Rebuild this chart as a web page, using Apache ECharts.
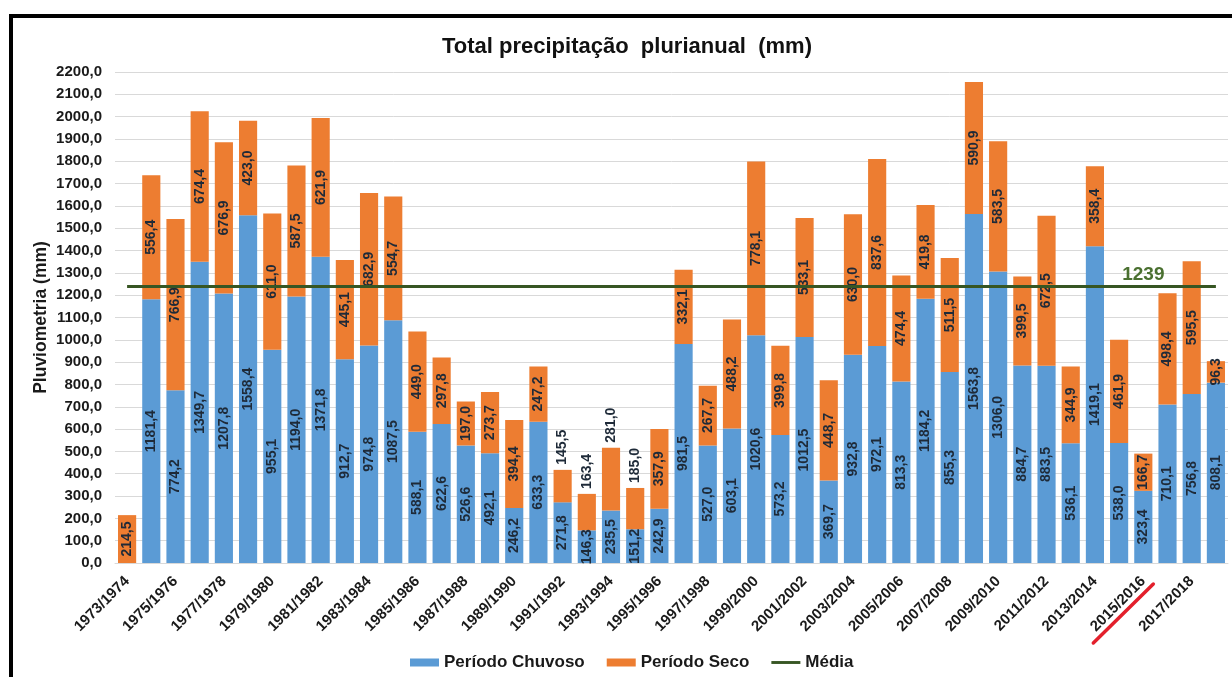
<!DOCTYPE html>
<html>
<head>
<meta charset="utf-8">
<script src="https://cdn.jsdelivr.net/npm/echarts@6/dist/echarts.min.js"></script>
<style>
html,body{margin:0;padding:0;background:#fff;}
#chart{width:1232px;height:677px;}
</style>
</head>
<body>
<div id="chart"></div>
<script>
const categories = ['1973/1974','1974/1975','1975/1976','1976/1977','1977/1978','1978/1979','1979/1980','1980/1981','1981/1982','1982/1983','1983/1984','1984/1985','1985/1986','1986/1987','1987/1988','1988/1989','1989/1990','1990/1991','1991/1992','1992/1993','1993/1994','1994/1995','1995/1996','1996/1997','1997/1998','1998/1999','1999/2000','2000/2001','2001/2002','2002/2003','2003/2004','2004/2005','2005/2006','2006/2007','2007/2008','2008/2009','2009/2010','2010/2011','2011/2012','2012/2013','2013/2014','2014/2015','2015/2016','2016/2017','2017/2018','2018/2019'];
const chuvoso = [0,1181.4,774.2,1349.7,1207.8,1558.4,955.1,1194.0,1371.8,912.7,974.8,1087.5,588.1,622.6,526.6,492.1,246.2,633.3,271.8,146.3,235.5,151.2,242.9,981.5,527.0,603.1,1020.6,573.2,1012.5,369.7,932.8,972.1,813.3,1184.2,855.3,1563.8,1306.0,884.7,883.5,536.1,1419.1,538.0,323.4,710.1,756.8,808.1];
const seco = [214.5,556.4,766.9,674.4,676.9,423.0,611.0,587.5,621.9,445.1,682.9,554.7,449.0,297.8,197.0,273.7,394.4,247.2,145.5,163.4,281.0,185.0,357.9,332.1,267.7,488.2,778.1,399.8,533.1,448.7,630.0,837.6,474.4,419.8,511.5,590.9,583.5,399.5,672.5,344.9,358.4,461.9,166.7,498.4,595.5,96.3];
const mediaValue = 1239;
const secoLabelAbove = [18,19,20,21];
const mediaLabelIndex = 42;
const highlightedCategory = '2015/2016';

const FONT = 'Liberation Sans, Arial, sans-serif';
const fmt = v => v.toFixed(1).replace('.', ',');
const labelColor = '#1e2a38';
const baseLabel = {
  show: true, position: 'inside', rotate: 90, color: labelColor,
  fontFamily: FONT, fontWeight: 'bold', fontSize: 14,
  formatter: p => (p.value ? fmt(p.value) : '')
};

const secoData = seco.map((v, i) => secoLabelAbove.includes(i)
  ? {value: v, label: {position: 'top', align: 'left', verticalAlign: 'middle', distance: 5}}
  : v);
const mediaData = categories.map((c, i) => i === mediaLabelIndex
  ? {value: mediaValue, label: {show: true, position: 'top', distance: 2, formatter: String(mediaValue),
      color: '#4a7030', fontSize: 19, fontWeight: 'bold', fontFamily: FONT}}
  : mediaValue);

const chart = echarts.init(document.getElementById('chart'));
const option = {
  animation: false,
  backgroundColor: '#fff',
  textStyle: {fontFamily: FONT},
  title: {
    text: 'Total precipitação  plurianual  (mm)',
    left: 437, top: 31,
    textStyle: {fontSize: 22, fontWeight: 'bold', color: '#111', fontFamily: FONT}
  },
  grid: {left: 115, right: 4, top: 72, bottom: 114},
  legend: {
    left: 410, top: 654, padding: 0,
    itemWidth: 29, itemHeight: 8, itemGap: 22,
    textStyle: {fontSize: 17, fontWeight: 'bold', color: '#1a1a1a', fontFamily: FONT},
    data: [
      {name: 'Período Chuvoso', icon: 'rect'},
      {name: 'Período Seco', icon: 'rect'},
      {name: 'Média', icon: 'path://M0,0H30V3H0Z'}
    ]
  },
  xAxis: {
    type: 'category', data: categories,
    axisTick: {show: false},
    axisLine: {lineStyle: {color: '#d9d9d9'}},
    axisLabel: {interval: 1, rotate: 45, margin: 16, fontSize: 15, fontWeight: 'bold', color: '#1a1a1a'}
  },
  yAxis: {
    type: 'value', min: 0, max: 2200, interval: 100,
    name: 'Pluviometria (mm)', nameLocation: 'middle', nameGap: 65, nameMoveOverlap: false,
    nameTextStyle: {fontSize: 17.5, fontWeight: 'bold', color: '#1a1a1a'},
    axisLine: {show: false}, axisTick: {show: false},
    splitLine: {lineStyle: {color: '#d9d9d9', width: 1}},
    axisLabel: {margin: 13, fontSize: 15, fontWeight: 'bold', color: '#1a1a1a', formatter: v => fmt(v)}
  },
  series: [
    {name: 'Período Chuvoso', type: 'bar', stack: 'total', data: chuvoso, barCategoryGap: '25%',
     itemStyle: {color: '#5b9bd5'}, label: baseLabel},
    {name: 'Período Seco', type: 'bar', stack: 'total', data: secoData, barCategoryGap: '25%',
     itemStyle: {color: '#ed7d31'}, label: baseLabel},
    {name: 'Média', type: 'line', data: mediaData, symbol: 'circle', symbolSize: 0, showSymbol: true,
     lineStyle: {color: '#375623', width: 3}, itemStyle: {color: '#375623'}, z: 5}
  ]
};
chart.setOption(option);

const p = chart.convertToPixel({xAxisIndex: 0, yAxisIndex: 0}, [highlightedCategory, 0]);
chart.setOption({
  graphic: [
    {type: 'rect', shape: {x: 11, y: 16, width: 1300, height: 700},
     style: {fill: 'none', stroke: '#000', lineWidth: 4}, silent: true},
    {type: 'line', shape: {x1: p[0] - 50, y1: p[1] + 80, x2: p[0] + 10, y2: p[1] + 21},
     style: {stroke: '#e3202c', lineWidth: 3.5, lineCap: 'round'}, silent: true}
  ]
});
</script>
</body>
</html>
